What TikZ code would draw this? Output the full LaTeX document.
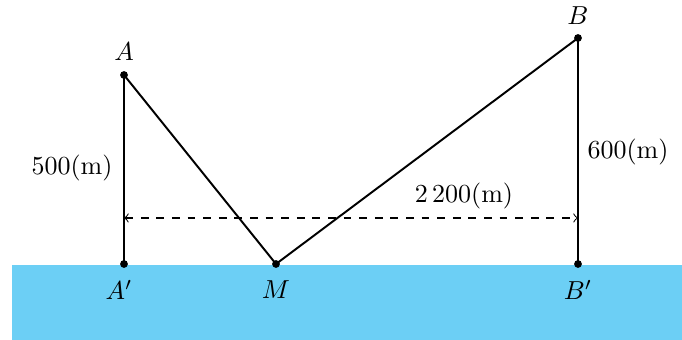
\documentclass[tikz,border=0pt]{standalone}
\usepackage{amsmath}
\begin{document}
\begin{tikzpicture}[x=0.3846pt,y=-0.3846pt,
  seg/.style={line width=0.75pt},
  dot/.style={circle,fill=black,inner sep=0pt,minimum size=3pt},
  dimline/.style={dashed,line width=0.4pt,<->,>=to}]
\useasboundingbox (0,0) rectangle (682,340);
\definecolor{water}{RGB}{108,207,245}
\fill[water] (12,265) rectangle (682,340);
\node[dot] (A) at (124,75) {};
\node[dot] (Ap) at (124,264) {};
\node[dot] (M) at (276,264) {};
\node[dot] (B) at (578,38) {};
\node[dot] (Bp) at (578,264) {};
\node (lA) at (124,52) {$A$};
\node (lAp) at (119,290) {$A'$};
\node (lM) at (276,290) {$M$};
\node (lB) at (578,16) {$B$};
\node (lBp) at (578,290) {$B'$};
\draw[seg] (A.center) -- (Ap.center);
\draw[seg] (B.center) -- (Bp.center);
\draw[seg] (A.center) -- (M.center) -- (B.center);
\coordinate (d1) at (124,218);
\coordinate (d2) at (578,218);
\draw[dimline] (d1) -- (d2);
\node (l500) at (72,168) {500(m)};
\node (l600) at (628,152) {600(m)};
\node (l2200) at (464,196) {2\,200(m)};
\end{tikzpicture}
\end{document}
